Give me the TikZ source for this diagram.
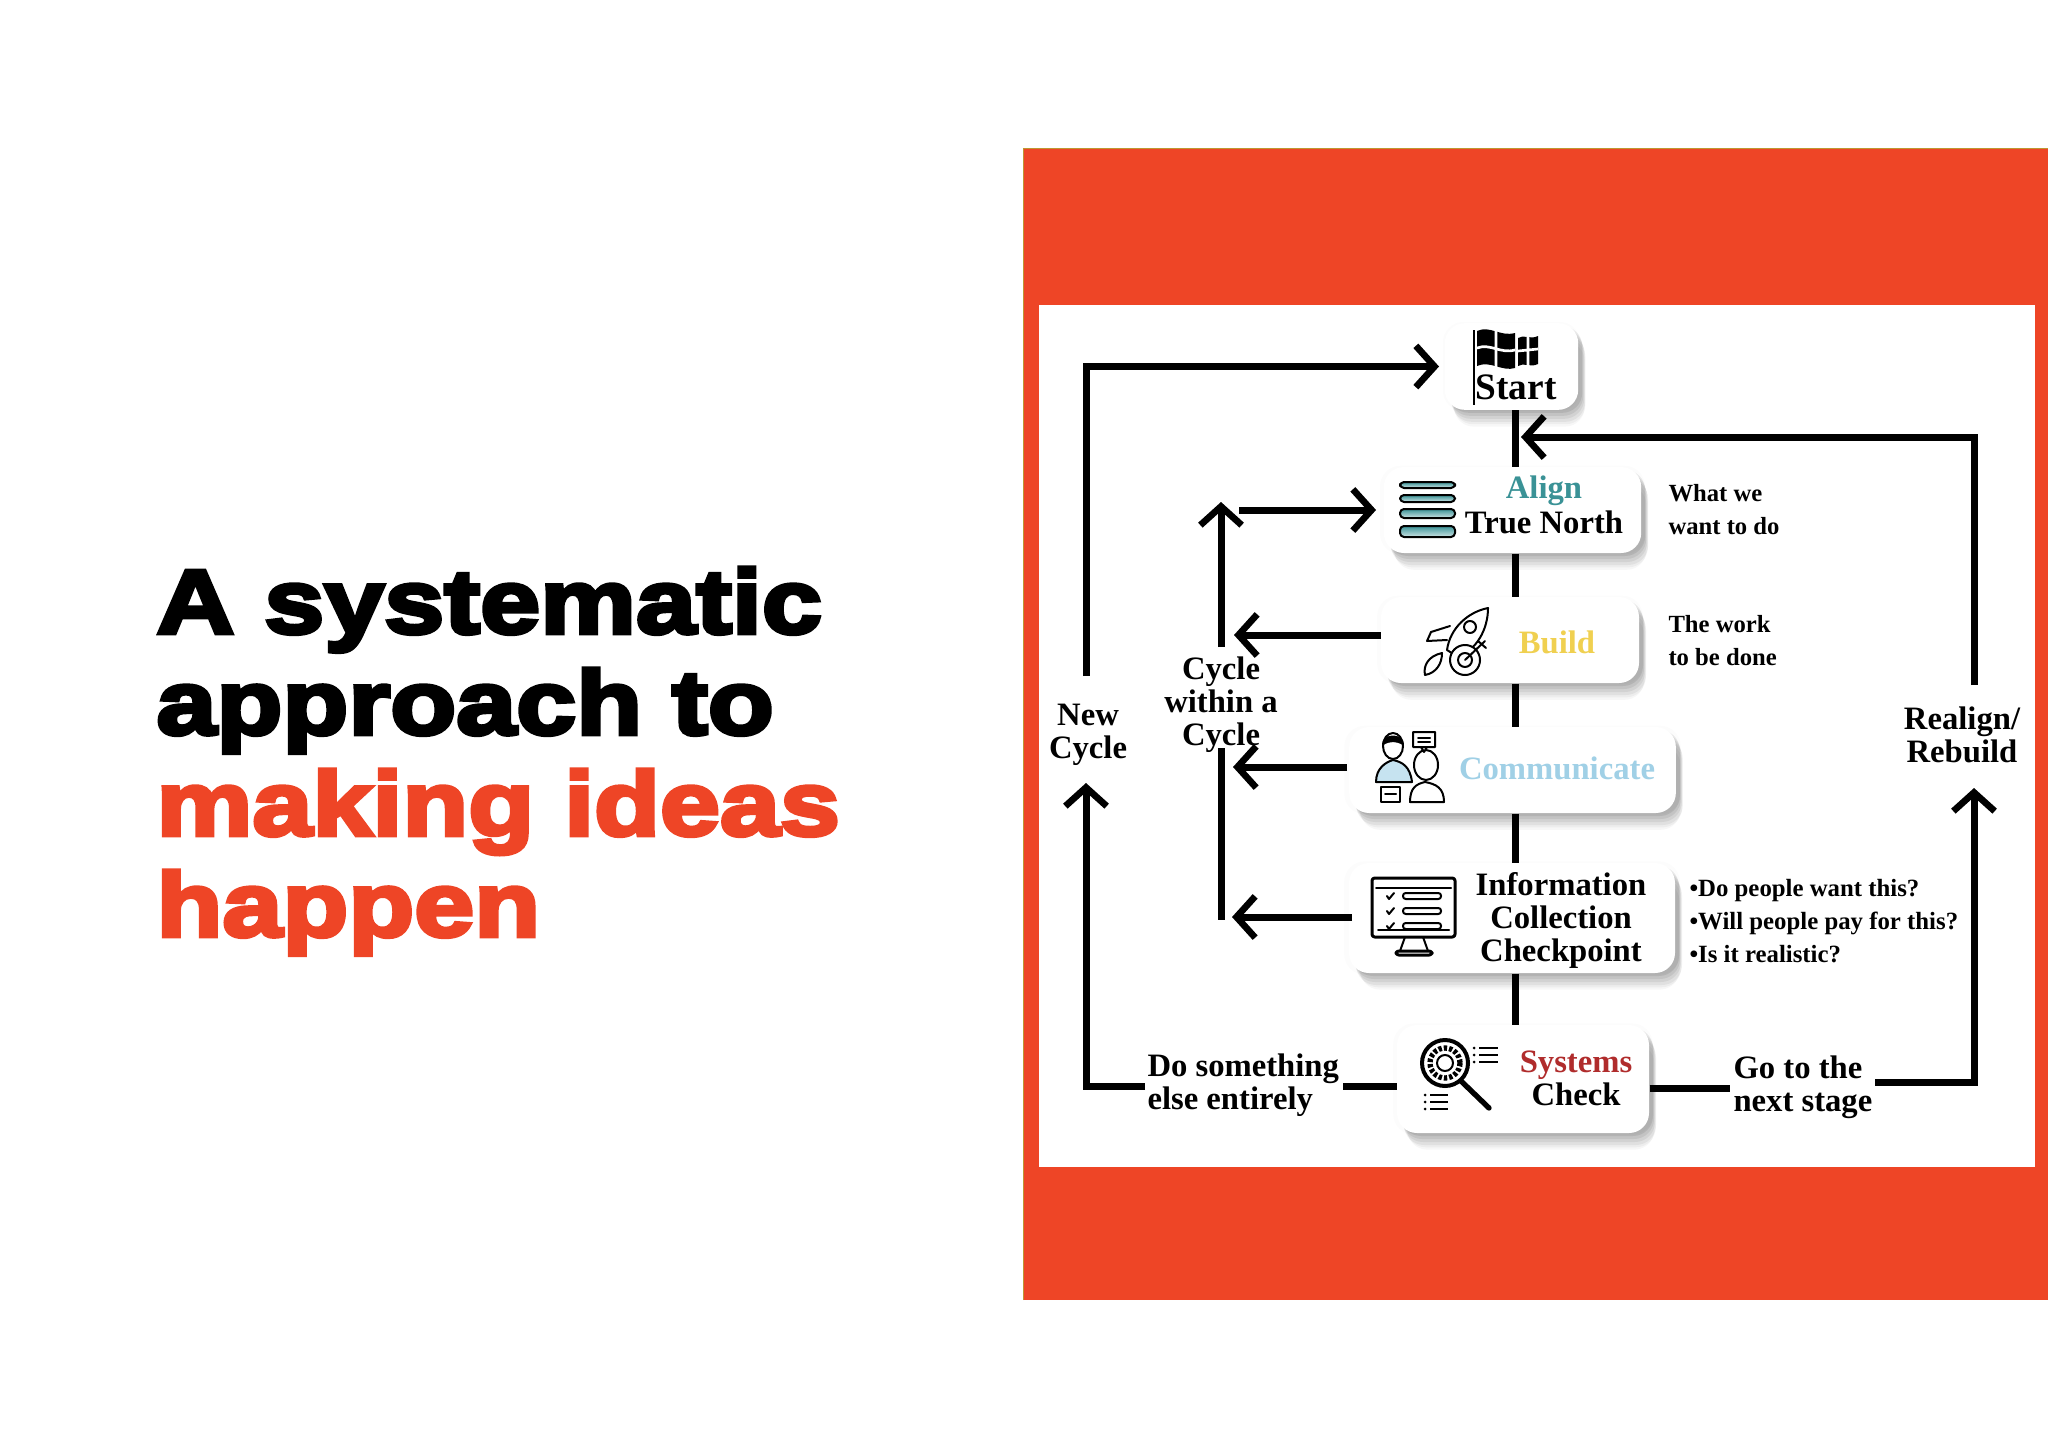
\documentclass[tikz,border=0pt]{standalone}
\usepackage{fontspec}
\setmainfont{Liberation Serif}
\newfontfamily\headfont[BoldFeatures={FakeBold=4.6,FakeStretch=1.19}]{Liberation Sans}
\usetikzlibrary{arrows.meta,shadows}

\definecolor{slidered}{RGB}{238,69,38}
\definecolor{alignteal}{RGB}{58,146,150}
\definecolor{buildyellow}{RGB}{240,208,80}
\definecolor{commblue}{RGB}{160,208,230}
\definecolor{checkred}{RGB}{176,44,44}

\tikzset{every picture/.style={line width=0.75pt}}
\tikzset{
  softbox/.style={fill=white,rounded corners=15,inner sep=0,
    general shadow={fill=black,opacity=0.03,shadow xshift=8,shadow yshift=-18,shadow scale=0.98},
    general shadow={fill=black,opacity=0.04,shadow xshift=8,shadow yshift=-15,shadow scale=0.99},
    general shadow={fill=black,opacity=0.05,shadow xshift=7,shadow yshift=-12},
    general shadow={fill=black,opacity=0.06,shadow xshift=6,shadow yshift=-9},
    general shadow={fill=black,opacity=0.07,shadow xshift=5,shadow yshift=-6},
    general shadow={fill=black,opacity=0.08,shadow xshift=4,shadow yshift=-3},
    general shadow={fill=black,opacity=0.012,shadow scale=1.03}},
  flowline/.style={line width=5.25},
  flowarrow/.style={line width=5.25,-{Straight Barb[length=14,width=31,line width=5]}},
  boxtext/.style={font=\fontsize{24.5}{24.75}\selectfont\bfseries,align=center,inner sep=0.75pt},
  sidetext/.style={font=\fontsize{18.5}{24.75}\selectfont\bfseries,align=left,inner sep=0.75pt},
  asktext/.style={font=\fontsize{18.6}{25}\selectfont\bfseries,align=left,inner sep=0.75pt},
  iconline/.style={line width=1.5,line join=round,line cap=round},
}

\begin{document}
\begin{tikzpicture}[x=0.75pt,y=0.75pt,yscale=-1]
\useasboundingbox (0,0) rectangle (2048,1448);

%Panel
\fill [slidered] (1023,148) rectangle (2048,1300);
\draw [color={rgb, 255:red, 190; green, 150; blue, 50 },line width=1] (1023.5,1300) -- (1023.5,148.5) -- (2048,148.5);
\fill [white] (1039,305) rectangle (2035,1167);

% Title
\node (titletext) [anchor=north west,inner sep=0,text=black,align=left,
  font=\headfont\bfseries\fontsize{68}{75.75}\selectfont] at (156,567)
  {A systematic\\approach to\\\textcolor{slidered}{making ideas}\\\textcolor{slidered}{happen}};

% Boxes
\node (startbox) [softbox,minimum width=100,minimum height=65] at (1511.5,366.5) {};
\node (alignbox) [softbox,minimum width=193,minimum height=64.5] at (1512.5,510) {};
\node (buildbox) [softbox,minimum width=193.5,minimum height=64.5] at (1510,640) {};
\node (commbox) [softbox,minimum width=245,minimum height=64.5] at (1512.5,770) {};
\node (infobox) [softbox,minimum width=244.5,minimum height=82.5] at (1512,918) {};
\node (sysbox) [softbox,minimum width=189,minimum height=81] at (1523,1079) {};

% Text Node
\node (starttext) [boxtext,font=\fontsize{28}{28}\selectfont\bfseries] at (1516,387) {Start};
\node (aligntext) [boxtext,text=alignteal] at (1544,491) {Align};
\node (truetext) [boxtext] at (1544,522) {True North};
\node (wanttext) [sidetext,anchor=west] at (1667,510) {What we\\want to do};
\node (buildtext) [boxtext,text=buildyellow] at (1557,642) {Build};
\node (worktext) [sidetext,anchor=west] at (1667,641) {The work\\to be done};
\node (commtext) [boxtext,text=commblue] at (1557,768) {Communicate};
\node (infotext) [boxtext] at (1561,920) {Information\\Collection\\Checkpoint};
\node (asktext) [asktext,anchor=west] at (1688,921) {•Do people want this?\\•Will people pay for this?\\•Is it realistic?};
\node (systext) [boxtext,text=checkred] at (1576,1065) {Systems};
\node (checktext) [boxtext] at (1576,1094) {Check};
\node (elsetext) [boxtext,align=left,anchor=west] at (1146,1085) {Do something\\else entirely};
\node (nexttext) [boxtext,align=left,anchor=west] at (1732,1087) {Go to the\\next stage};
\node (newtext) [boxtext] at (1088,735) {New\\Cycle};
\node (cycletext) [boxtext] at (1221,704.5) {Cycle\\within a\\Cycle};
\node (realigntext) [boxtext] at (1962,735) {Realign/\\Rebuild};

% Free ends
\coordinate (trunk) at (1515,0);
\coordinate (newtop) at (1086,676);
\coordinate (newtip) at (1086,783);
\coordinate (elseleft) at (1145,1086);
\coordinate (elseright) at (1343,1086);
\coordinate (nextleft) at (1730,1088);
\coordinate (nextright) at (1875,1082);
\coordinate (realigntop) at (1974,685);
\coordinate (realigntip) at (1974,788);
\coordinate (trunkjoin) at (1521,437);
\coordinate (cyclelow) at (1221,647);
\coordinate (cycletip) at (1221,502);
\coordinate (cyclejoin) at (1239,510);
\coordinate (alignend) at (1376,510);
\coordinate (buildend) at (1234,635);
\coordinate (commstart) at (1347,767);
\coordinate (commend) at (1233,767);
\coordinate (infostart) at (1352,917);
\coordinate (infoend) at (1232,917);
\coordinate (cyclerail) at (1221,748);
\coordinate (cyclefoot) at (1221,920);

%Straight Lines
\draw [flowline] (startbox.south -| trunk) -- (alignbox.north -| trunk);
\draw [flowline] (alignbox.south -| trunk) -- (buildbox.north -| trunk);
\draw [flowline] (buildbox.south -| trunk) -- (commbox.north -| trunk);
\draw [flowline] (commbox.south -| trunk) -- (infobox.north -| trunk);
\draw [flowline] (infobox.south -| trunk) -- (sysbox.north -| trunk);
\draw [flowline] (cyclerail) -- (cyclefoot);
\draw [flowline] (elseright) -- (sysbox.west |- elseright);
\draw [flowline] (sysbox.east |- nextleft) -- (nextleft);

%Arrows
\draw [flowarrow] (newtop) |- ([xshift=-4]startbox.west);
\draw [flowarrow] (elseleft) -| (newtip);
\draw [flowarrow] (realigntop) |- (trunkjoin);
\draw [flowarrow] (nextright) -| (realigntip);
\draw [flowarrow] (cyclelow) -- (cycletip);
\draw [flowarrow] (cyclejoin) -- (alignend);
\draw [flowarrow] (buildbox.west |- buildend) -- (buildend);
\draw [flowarrow] (commstart) -- (commend);
\draw [flowarrow] (infostart) -- (infoend);

% Flag
\draw [line width=1.5] (1474,330) -- (1474,405);
\fill (1477,331) .. controls (1490,325) and (1500,337) .. (1515,333) -- (1515,368) .. controls (1502,372) and (1490,360) .. (1477,366) -- cycle;
\fill (1518,338) .. controls (1524,334) and (1530,340) .. (1538,336) -- (1538,364) .. controls (1530,368) and (1524,362) .. (1518,366) -- cycle;
\draw [white,line width=2] (1496,328) -- (1496,370) (1477,348) .. controls (1490,343) and (1500,354) .. (1515,350) (1518,351) -- (1538,349) (1528,335) -- (1528,368);

% Stack
\foreach \ytop/\ybot in {482/488,495/502,509/518,526/537} {
  \draw [iconline,top color=alignteal,bottom color=alignteal!25,rounded corners=3] (1400,\ytop) rectangle (1455,\ybot);
}

% Rocket
\draw [iconline,fill=white] (1488,608) .. controls (1468,612) and (1450,628) .. (1447,650) -- (1458,657) .. controls (1476,650) and (1488,630) .. cycle;
\draw [iconline] (1470,627) circle (6);
\draw [iconline,fill=white] (1450,626) -- (1431,632) -- (1427,641) -- (1447,640);
\draw [iconline,fill=white] (1442,653) .. controls (1428,656) and (1423,666) .. (1425,675) .. controls (1436,673) and (1442,664) .. cycle;
\draw [iconline,fill=white] (1465,660) circle (15);
\draw [iconline] (1465,660) circle (7);
\draw [iconline] (1465,660) -- (1485,641);
\draw [iconline] (1478,641) -- (1486,648);

% People
\draw [iconline,fill=commblue!60] (1376,782) .. controls (1376,768) and (1386,762) .. (1393,760) .. controls (1402,762) and (1410,766) .. (1412,782) -- cycle;
\draw [iconline,fill=white] (1393,746) ellipse (10 and 13);
\draw [iconline,fill=black] (1383,744) .. controls (1384,734) and (1402,734) .. (1403,744) .. controls (1396,740) and (1390,740) .. cycle;
\draw [iconline,fill=white] (1410,802) .. controls (1410,788) and (1416,784) .. (1425,782) .. controls (1436,784) and (1444,788) .. (1444,802) -- cycle;
\draw [iconline,fill=white] (1426,765) ellipse (12 and 15);
\draw [iconline,fill=white] (1413,732) rectangle (1435,747) (1421,747) -- (1424,752) -- (1427,747);
\draw [iconline,fill=white] (1381,787) rectangle (1400,802);
\draw [iconline] (1385,794) -- (1396,794);
\draw [iconline] (1418,738) -- (1430,738) (1418,742) -- (1430,742);

% Monitor
\draw [iconline,line width=2.25,rounded corners=2] (1372,878) rectangle (1455,937);
\draw [iconline] (1376,888) -- (1451,888);
\draw [iconline] (1378,930) -- (1449,930);
\foreach \yrow in {896,911,926} {
  \draw [iconline] (1387,\yrow) -- (1389,\yrow+3) -- (1394,\yrow-3);
  \draw [iconline,rounded corners=2] (1403,\yrow-3) rectangle (1441,\yrow+3);
}
\draw [iconline] (1405,937) -- (1400,951) (1423,937) -- (1428,951);
\draw [iconline,line width=2.25,rounded corners=2] (1396,951) rectangle (1432,955);

% Magnifier
\draw [line width=4,line cap=round] (1461,1081) -- (1489,1108);
\draw [line width=3] (1445,1063) circle (23);
\draw [line width=4,dash pattern=on 2.5 off 1.5] (1445,1063) circle (15);
\draw [line width=1.5] (1445,1063) circle (8);
\foreach \yrow in {1048,1055,1062} {
  \fill (1474,\yrow) circle (1.5);
  \draw [line width=1.5] (1479,\yrow) -- (1498,\yrow);
}
\foreach \yrow in {1095,1102,1109} {
  \fill (1425,\yrow) circle (1.5);
  \draw [line width=1.5] (1430,\yrow) -- (1448,\yrow);
}

\end{tikzpicture}
\end{document}
